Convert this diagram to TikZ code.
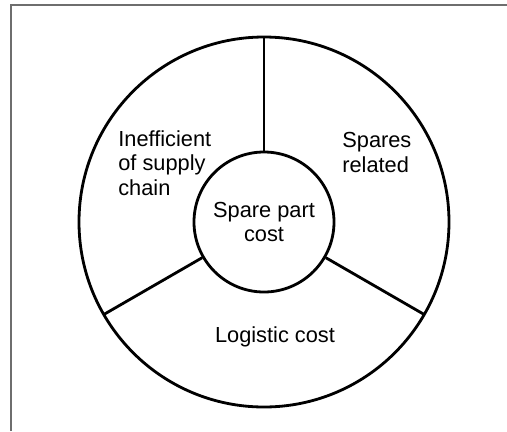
\documentclass[tikz,border=0pt]{standalone}
\usepackage{fontspec}
\setmainfont{Liberation Sans}
\definecolor{framegray}{RGB}{110,110,110}

\tikzset{
    ring/.style={line width=1.6pt, black},
    sector/.style={inner sep=0pt, align=left, anchor=base west,
        font=\fontsize{12.4}{13.7}\selectfont},
}

\begin{document}
\begin{tikzpicture}
    \useasboundingbox (-5.28,-4.18) rectangle (4.86,4.44);
    % page frame, top and left only
    \draw[framegray, line width=1.1pt] (-5.06,-4.18) -- (-5.06,4.34) -- (4.86,4.34);

    \draw[ring] (0,0) circle (3.7cm);
    \node[ring, draw, circle, minimum size=2.8cm, align=center,
        font=\fontsize{12.4}{13.7}\selectfont] (core) at (0,0) {Spare part\\cost};
    \foreach \a in {90,210,330}
        \draw[ring] (core.\a) -- (\a:3.7);

    % base anchor sits on the last line
    \node[sector] (chain) at (-2.92,0.54) {Inefficient\\of supply\\chain};
    \node[sector] (spares) at (1.56,1.0) {Spares\\related};
    \node[sector, anchor=base] (logistic) at (0.22,-2.4) {Logistic cost};
\end{tikzpicture}
\end{document}
